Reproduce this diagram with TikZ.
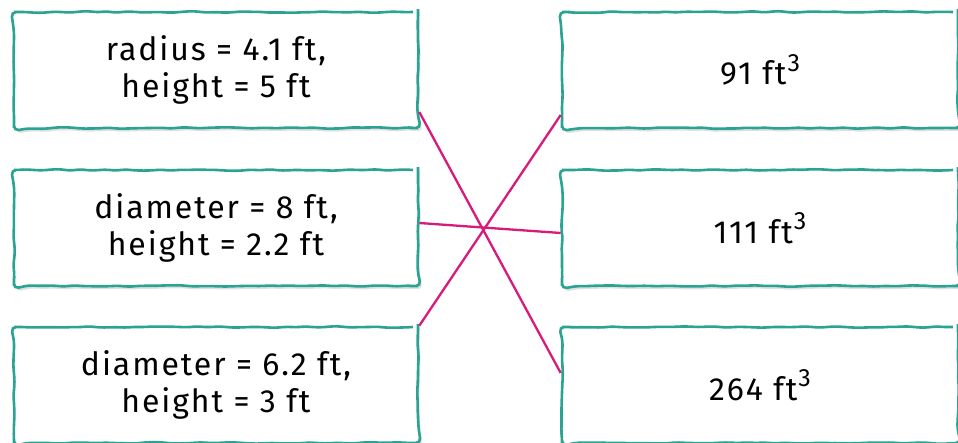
\documentclass[tikz,border=0pt]{standalone}
\usepackage{fontspec}
\setmainfont{Fira Sans}[LetterSpace=6]
\usetikzlibrary{decorations.pathmorphing,shadows,calc}
\definecolor{boxteal}{HTML}{2BA393}
\definecolor{linkpink}{HTML}{D81B7A}
% cubic-feet unit with a raised exponent
\newcommand{\cuft}{ft\kern1pt\raisebox{0.42em}{\fontsize{25}{25}\selectfont 3}}
\begin{document}
\begin{tikzpicture}[x=1pt,y=-1pt,
  card/.style={draw=boxteal, line width=2.6pt, fill=white,
    decorate, decoration={random steps,segment length=9pt,amplitude=0.8pt},
    rounded corners=5pt,
    drop shadow={shadow xshift=2pt,shadow yshift=-3pt,opacity=0.12,fill=black},
    minimum height=116pt, align=center,
    font=\fontsize{32}{37}\selectfont},
  leftcard/.style={card, minimum width=404pt},
  rightcard/.style={card, minimum width=396pt},
  link/.style={draw=linkpink, line width=2.3pt}]
\pgfmathsetseed{7}
\useasboundingbox (0,0) rectangle (958,443);
\fill[white] (0,0) rectangle (958,443);

\node[leftcard] (l1) at (216,70) {radius = 4.1 ft,\\height = 5 ft};
\node[leftcard] (l2) at (216,228) {diameter = 8 ft,\\height = 2.2 ft};
\node[leftcard] (l3) at (216,385) {diameter = 6.2 ft,\\height = 3 ft};

\node[rightcard] (r1) at (760,70) {91 \cuft};
\node[rightcard] (r2) at (760,228) {111 \cuft};
\node[rightcard] (r3) at (760,385) {264 \cuft};

\draw[link] ([yshift=-42pt]l1.east) -- ([yshift=12pt]r3.west);
\draw[link] ([yshift=5pt]l2.east) -- ([yshift=-5pt]r2.west);
\draw[link] (l3.north east) -- ([yshift=-45pt]r1.west);
\end{tikzpicture}
\end{document}
